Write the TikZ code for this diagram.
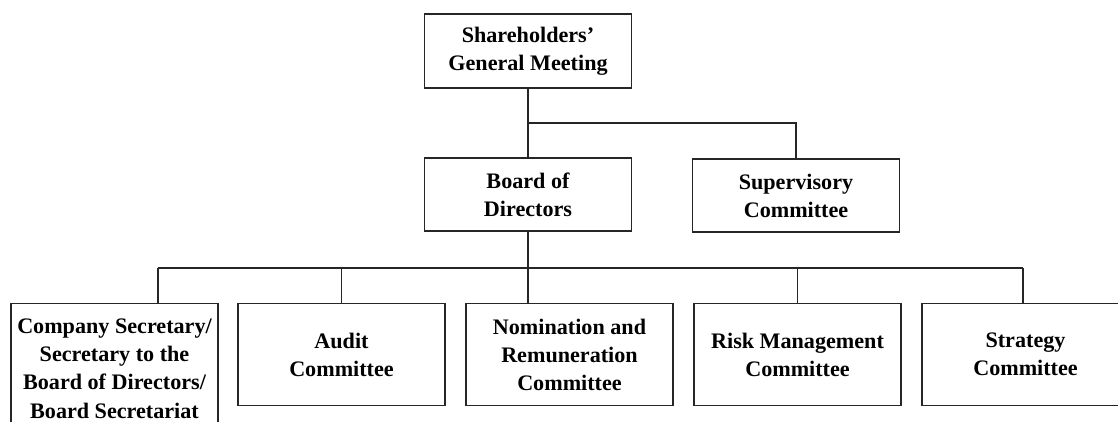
\documentclass[tikz,border=0pt]{standalone}
\usepackage{fontspec}
\setmainfont{Liberation Serif}
\begin{document}
\begin{tikzpicture}[x=0.02cm, y=-0.02cm,
		orgbox/.style={draw=black!85, line width=0.8pt, align=center, inner sep=2pt,
			font=\bfseries\fontsize{12.6}{16}\selectfont, minimum width=4.14cm},
		link/.style={draw=black!85, line width=0.8pt}]
	\useasboundingbox (0,0) rectangle (1118,422);
	\clip (0,0) rectangle (1118,422);

	% Top level
	\node[orgbox, minimum height=1.48cm] (meeting) at (528,51) {Shareholders’\\General Meeting};

	% Second level
	\node[orgbox, minimum height=1.46cm] (board) at (528,194.5) {Board of\\Directors};
	\node[orgbox, minimum height=1.46cm] (superv) at (796,195.5) {Supervisory\\Committee};
	\coordinate (split) at (528,123);
	\draw[link] (meeting) -- (board);
	\draw[link] (split) -| (superv);

	% Committees under the board
	\node[orgbox, minimum height=2.6cm, anchor=north] (secretary) at (114.5,303)
		{Company Secretary/\\Secretary to the\\Board of Directors/\\Board Secretariat};
	\node[orgbox, minimum height=2.04cm, anchor=north] (audit) at (341.5,303) {Audit\\Committee};
	\node[orgbox, minimum height=2.04cm, anchor=north] (nomination) at (569.5,303) {Nomination and\\Remuneration\\Committee};
	\node[orgbox, minimum height=2.04cm, anchor=north] (risk) at (797.5,303) {Risk Management\\Committee};
	\node[orgbox, minimum height=2.04cm, anchor=north] (strategy) at (1025.5,303) {Strategy\\Committee};

	\coordinate (busL) at (158,268);
	\coordinate (busR) at (1023,268);
	\draw[link] (busL) -- (busR);
	\draw[link] (board.south) -- (board.south |- nomination.north);
	\draw[link] (busL) -- (busL |- secretary.north);
	\draw[link] (busL -| audit.north) -- (audit.north);
	\draw[link] (busL -| risk.north) -- (risk.north);
	\draw[link] (busR) -- (busR |- strategy.north);
\end{tikzpicture}
\end{document}
